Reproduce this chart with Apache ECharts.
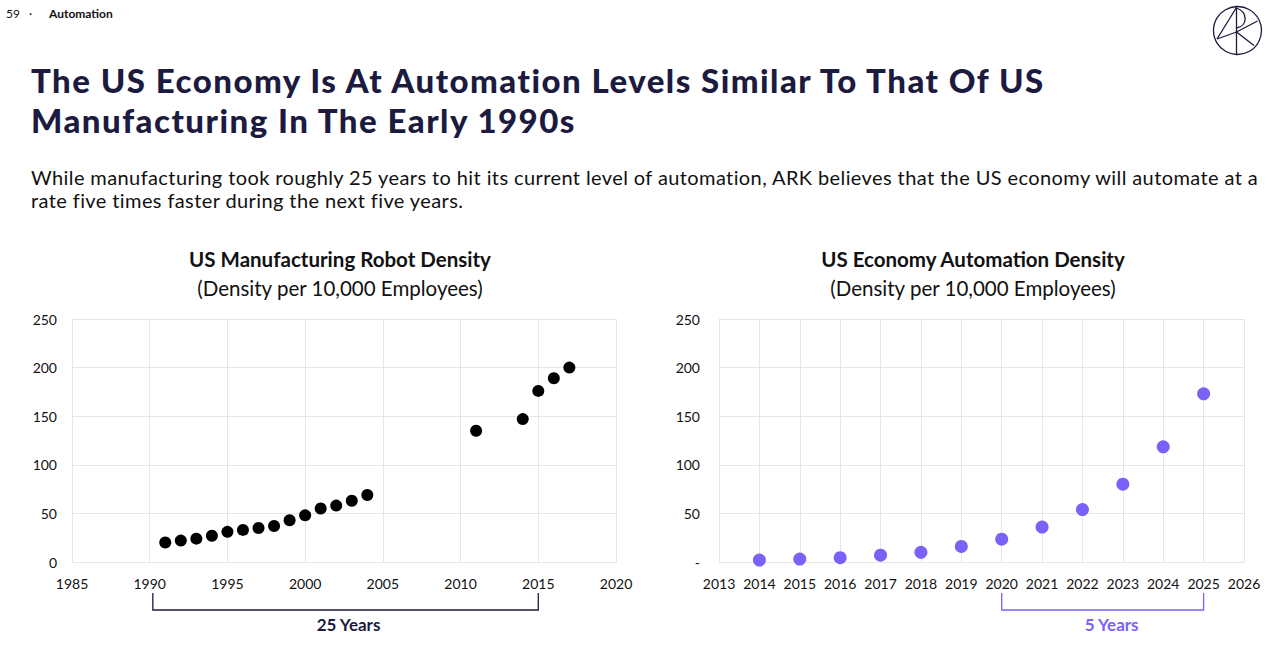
<!DOCTYPE html>
<html>
<head>
<meta charset="utf-8">
<script src="https://cdn.jsdelivr.net/npm/echarts@6/dist/echarts.min.js"></script>
<style>
  html, body { margin:0; padding:0; background:#fff; }
  body { width:1280px; height:658px; position:relative; overflow:hidden; font-family:Lato, "Noto Sans", sans-serif; }
  #chart { position:absolute; left:0; top:0; width:1280px; height:658px; }
  .hdr { position:absolute; top:6px; font-size:12px; color:#111; line-height:16px; }
  #title { position:absolute; left:31px; top:60px; font-size:33px; line-height:40px; font-weight:900; color:#1c1b3f; letter-spacing:1.47px; white-space:nowrap; }
  #sub { position:absolute; left:31px; top:166px; font-size:20px; line-height:23px; color:#111; letter-spacing:0.4px; white-space:nowrap; }
</style>
</head>
<body>
<div id="chart"></div>
<div class="hdr" style="left:6px;">59</div>
<div class="hdr" style="left:29px;">·</div>
<div class="hdr" style="left:49px;font-weight:700;">Automation</div>
<div id="title">The US Economy Is At Automation Levels Similar To That Of US<br>Manufacturing In The Early 1990s</div>
<div id="sub">While manufacturing took roughly 25 years to hit its current level of automation, ARK believes that the US economy will automate at a<br>rate five times faster during the next five years.</div>
<script>
// ---- data ----
const mfgYears   = [1991, 1992, 1993, 1994, 1995, 1996, 1997, 1998, 1999, 2000, 2001, 2002, 2003, 2004, 2011, 2014, 2015, 2016, 2017];
const mfgDensity = [20, 22, 24, 27, 31, 33, 35, 37, 43, 48, 55, 58, 63, 69, 135, 147, 176, 189, 200];
const econYears   = [2014, 2015, 2016, 2017, 2018, 2019, 2020, 2021, 2022, 2023, 2024, 2025];
const econDensity = [2, 3, 4.5, 7, 10, 16, 23.5, 36, 54, 80, 118.5, 173];
const leftTitle  = 'US Manufacturing Robot Density';
const rightTitle = 'US Economy Automation Density';
const unitLabel  = '(Density per 10,000 Employees)';
const leftSpan   = [1990.2, 2015, '25 Years'];
const rightSpan  = [2020, 2025, '5 Years'];

const NAVY = '#1c1b3f';
const PURPLE = '#7b61f8';
const GRID = '#e6e6e6';
const FONT = 'Lato, "Noto Sans", sans-serif';

const chart = echarts.init(document.getElementById('chart'), null, {renderer:'svg'});

function bracket(span, color, xi, yi, dx) {
  return {
    type:'custom', xAxisIndex:xi, yAxisIndex:yi, clip:false, silent:true,
    data:[[span[0], span[1], 0]],
    encode:{x:[0,1], y:2},
    renderItem:function(params, api){
      const p1 = api.coord([api.value(0), 0]);
      const p2 = api.coord([api.value(1), 0]);
      const y0 = p1[1];
      return {type:'group', children:[
        {type:'polyline', shape:{points:[[p1[0], y0+31],[p1[0], y0+48],[p2[0], y0+48],[p2[0], y0+31]]},
         style:{stroke:color, lineWidth:1.3, fill:null}},
        {type:'text', style:{text:span[2], x:(p1[0]+p2[0])/2 + dx, y:y0+62, align:'center', verticalAlign:'middle',
          fill:color, font:'bold 17px ' + FONT}}
      ]};
    }
  };
}

const axisLabel = {color:'#111', fontSize:14, fontFamily:FONT};
const splitLine = {show:true, lineStyle:{color:GRID, width:1}};
const titleStyle = {fontSize:20.5, fontWeight:'bold', color:'#111', fontFamily:FONT};
const subStyle = {fontSize:20.5, color:'#111', fontFamily:FONT};

chart.setOption({
  animation:false,
  title:[
    {text:leftTitle, subtext:unitLabel, left:335, top:243, textAlign:'center', itemGap:8,
     textStyle:titleStyle, subtextStyle:subStyle},
    {text:rightTitle, subtext:unitLabel, left:968, top:243, textAlign:'center', itemGap:8,
     textStyle:titleStyle, subtextStyle:subStyle}
  ],
  grid:[
    {left:72, top:319, width:544, height:243},
    {left:719, top:319, width:525, height:243}
  ],
  xAxis:[
    {type:'value', gridIndex:0, min:1985, max:2020, interval:5,
     axisLine:{show:true, lineStyle:{color:GRID}}, axisTick:{show:false},
     axisLabel:Object.assign({margin:14, formatter:v=>String(v)}, axisLabel), splitLine:splitLine},
    {type:'value', gridIndex:1, min:2013, max:2026, interval:1,
     axisLine:{show:true, lineStyle:{color:GRID}}, axisTick:{show:false},
     axisLabel:Object.assign({margin:14, formatter:v=>String(v)}, axisLabel), splitLine:splitLine}
  ],
  yAxis:[
    {type:'value', gridIndex:0, min:0, max:250, interval:50,
     axisLine:{show:true, lineStyle:{color:GRID}}, axisTick:{show:false},
     axisLabel:Object.assign({margin:15}, axisLabel), splitLine:splitLine},
    {type:'value', gridIndex:1, min:0, max:250, interval:50,
     axisLine:{show:true, lineStyle:{color:GRID}}, axisTick:{show:false},
     axisLabel:Object.assign({margin:19, formatter:v=> v===0 ? '-' : String(v)}, axisLabel), splitLine:splitLine}
  ],
  series:[
    {type:'scatter', xAxisIndex:0, yAxisIndex:0, symbolSize:12,
     itemStyle:{color:'#000', opacity:1},
     data:mfgYears.map((y,i)=>[y, mfgDensity[i]])},
    {type:'scatter', xAxisIndex:1, yAxisIndex:1, symbolSize:13,
     itemStyle:{color:PURPLE, opacity:1},
     data:econYears.map((y,i)=>[y, econDensity[i]])},
    bracket(leftSpan, NAVY, 0, 0, 3),
    bracket(rightSpan, PURPLE, 1, 1, 9)
  ],
  graphic:[
    {type:'group', left:1211, top:4, children:[
      {type:'circle', shape:{cx:24.5, cy:24.5, r:24}, style:{stroke:NAVY, lineWidth:1.3, fill:null}},
      {type:'polyline', shape:{points:[[4,33],[23.5,1.5]]}, style:{stroke:NAVY, lineWidth:1.3, fill:null}},
      {type:'polyline', shape:{points:[[23.5,0.5],[23.5,48.5]]}, style:{stroke:NAVY, lineWidth:1.3, fill:null}},
      {type:'bezierCurve', shape:{x1:23.5, y1:2, x2:23.5, y2:22, cpx1:35, cpy1:6, cpx2:35, cpy2:20}, style:{stroke:NAVY, lineWidth:1.3, fill:null}},
      {type:'polyline', shape:{points:[[4,33],[23.5,26],[44.5,15]]}, style:{stroke:NAVY, lineWidth:1.3, fill:null}},
      {type:'polyline', shape:{points:[[23.5,26],[41,39.5]]}, style:{stroke:NAVY, lineWidth:1.3, fill:null}}
    ]}
  ]
});
</script>
</body>
</html>
